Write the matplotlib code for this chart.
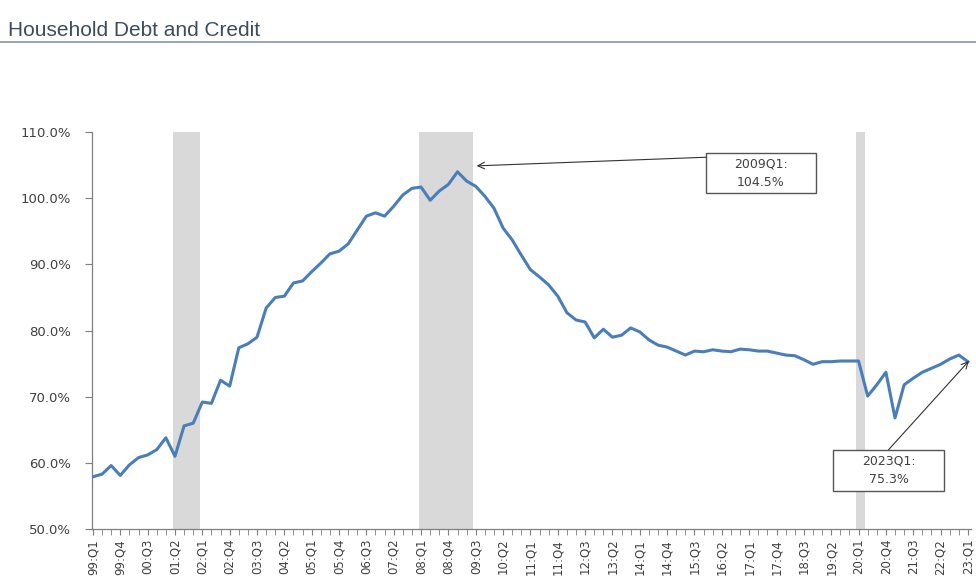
import matplotlib
matplotlib.use("Agg")
import matplotlib.pyplot as plt
from matplotlib.patches import Rectangle

plt.rcParams['font.family'] = ['DejaVu Sans']

# 数据：1999Q1 - 2023Q1，季度
start_year = 1999
ratio = [57.9, 58.3, 59.6, 58.1, 59.7, 60.8, 61.2, 62.0, 63.8, 61.0,
         65.6, 66.0, 69.2, 69.0, 72.5, 71.6, 77.4, 78.0, 79.0, 83.4,
         85.0, 85.2, 87.2, 87.5, 88.9, 90.2, 91.6, 92.0, 93.1, 95.2,
         97.3, 97.8, 97.3, 98.8, 100.5, 101.5, 101.7, 99.7, 101.1, 102.1,
         104.0, 102.6, 101.8, 100.3, 98.5, 95.5, 93.7, 91.4, 89.2, 88.1,
         86.9, 85.2, 82.7, 81.6, 81.3, 78.9, 80.2, 79.0, 79.3, 80.4,
         79.8, 78.6, 77.8, 77.5, 76.9, 76.3, 76.9, 76.8, 77.1, 76.9,
         76.8, 77.2, 77.1, 76.9, 76.9, 76.6, 76.3, 76.2, 75.6, 74.9,
         75.3, 75.3, 75.4, 75.4, 75.4, 70.1, 71.8, 73.7, 66.8, 71.8,
         72.8, 73.7, 74.3, 74.9, 75.7, 76.3, 75.3]

quarters = ["%02d:Q%d" % ((start_year + i // 4) % 100, i % 4 + 1) for i in range(len(ratio))]

# 衰退期（阴影）
recessions = [(8.8, 11.8), (35.8, 41.7), (83.7, 84.7)]

yticks = [50, 60, 70, 80, 90, 100, 110]

grey = '#7f7f7f'
txt = '#404040'

fig = plt.figure(figsize=(9.76, 5.82), dpi=100)
ax = fig.add_axes([0.0943, 0.091, 0.9007, 0.682])

for a, b in recessions:
    ax.axvspan(a, b, color='#d9d9d9', lw=0, zorder=0)

x = list(range(len(ratio)))
ax.plot(x, ratio, color='#4a7ebb', lw=2.2, zorder=3)

ax.set_xlim(-0.1, 96.35)
ax.set_ylim(50, 110)
ax.set_yticks(yticks)
ax.set_yticklabels(["%.1f%%" % v for v in yticks], fontsize=9.5, color=txt)
ax.set_xticks(x[::3])
ax.set_xticklabels(quarters[::3], rotation=90, fontsize=8.5, color=txt)
ax.set_xticks(x, minor=True)
ax.tick_params(axis='x', which='both', length=4, color=grey, direction='out', pad=3)
ax.tick_params(axis='y', length=5, color=grey, direction='out', pad=10)

for s in ['top', 'right']:
    ax.spines[s].set_visible(False)
for s in ['left', 'bottom']:
    ax.spines[s].set_color(grey)
    ax.spines[s].set_linewidth(0.9)

# 标注框
boxes = [((67.25, 100.8), 12.05, 6.0, "2009Q1:\n104.5%", (67.25, 106.2), (42.1, 104.9)),
         ((81.2, 55.8), 12.2, 6.2, "2023Q1:\n75.3%", (87.3, 62.0), (96.1, 75.4))]
for (bx, by), w, h, label, tail, tip in boxes:
    ax.add_patch(Rectangle((bx, by), w, h, facecolor='white', edgecolor='#555555',
                           lw=1.0, zorder=5, clip_on=False))
    ax.text(bx + w / 2, by + h / 2, label, ha='center', va='center', fontsize=9,
            color=txt, linespacing=1.5, zorder=6)
    ax.annotate('', xy=tip, xytext=tail,
                arrowprops=dict(arrowstyle='->', color='#333333', lw=0.8,
                                shrinkA=0, shrinkB=0, mutation_scale=12),
                zorder=6)

fig.text(0.008, 0.948, "Household Debt and Credit", fontsize=15, color='#3e4b5c',
         ha='left', va='center', family=['Liberation Sans', 'DejaVu Sans'])
fig.add_artist(plt.Line2D([0.0, 1.0], [0.928, 0.928], color='#8a96a6', lw=1.2))

fig.savefig('out.png', dpi=100)
